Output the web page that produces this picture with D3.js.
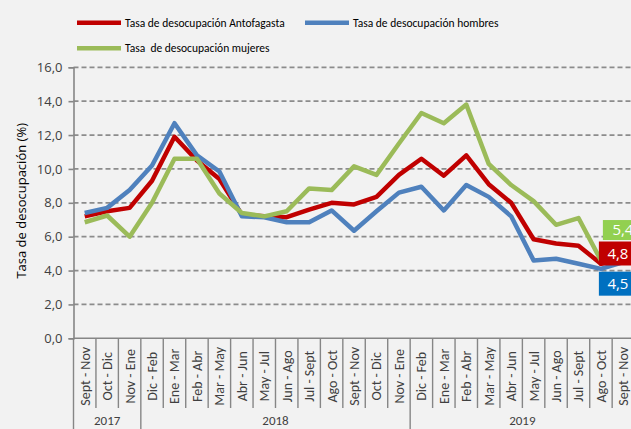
<!DOCTYPE html>
<html>
<head>
<meta charset="utf-8">
<script src="https://cdn.jsdelivr.net/npm/d3@7/dist/d3.min.js"></script>
<style>
    body { margin: 0; background: #f2f2f2; }
    svg { display: block; }
    .narrow { font-family: Carlito, 'Liberation Sans Narrow', 'DejaVu Sans Condensed', sans-serif; }
    .plain { font-family: 'Open Sans', 'Noto Sans', sans-serif; }
</style>
</head>
<body>
<div id="vis"></div>
<script>
'use strict';

// data: rolling quarters, Sept-Nov 2017 .. Sept-Nov 2019
var categories = ['Sept - Nov', 'Oct - Dic', 'Nov - Ene',
    'Dic - Feb', 'Ene - Mar', 'Feb - Abr', 'Mar - May', 'Abr - Jun', 'May - Jul',
    'Jun - Ago', 'Jul - Sept', 'Ago - Oct', 'Sept - Nov', 'Oct - Dic', 'Nov - Ene',
    'Dic - Feb', 'Ene - Mar', 'Feb - Abr', 'Mar - May', 'Abr - Jun', 'May - Jul',
    'Jun - Ago', 'Jul - Sept', 'Ago - Oct', 'Sept - Nov'];
var years = ['2017', '2018', '2019'];
var yearCounts = [3, 12, 10];

var antofagasta = [7.2, 7.5, 7.7, 9.3, 11.9, 10.5, 9.4, 7.3, 7.2, 7.15, 7.6, 8.0, 7.9,
    8.35, 9.65, 10.6, 9.6, 10.8, 9.1, 8.0, 5.85, 5.6, 5.47, 4.4, 4.8];
var hombres = [7.4, 7.7, 8.75, 10.2, 12.7, 10.8, 9.85, 7.2, 7.15, 6.85, 6.85, 7.55, 6.35,
    7.5, 8.6, 8.95, 7.55, 9.05, 8.35, 7.2, 4.6, 4.7, 4.4, 4.1, 4.5];
var mujeres = [6.85, 7.25, 6.0, 8.0, 10.6, 10.6, 8.55, 7.4, 7.2, 7.5, 8.85, 8.75, 10.15,
    9.65, 11.5, 13.3, 12.7, 13.8, 10.3, 9.05, 8.1, 6.7, 7.1, 4.6, 5.4];

var seriesNames = ['Tasa de desocupación Antofagasta', 'Tasa de desocupación hombres',
    'Tasa  de desocupación mujeres'];
var yTicks = [0, 2, 4, 6, 8, 10, 12, 14, 16];

//layout
var width = 631, height = 429;
var plot = { left: 73.5, right: 634.6, top: 67.3, bottom: 338.3 };

//vis color
var colors = {
    antofagasta: '#c00000', hombres: '#4f81bd', mujeres: '#9bbb59',
    grid: '#8c8c8c', axis: '#868686', text: '#404040'
};
var series = [
    { key: 'antofagasta', name: seriesNames[0], values: antofagasta, color: colors.antofagasta, box: '#c00000', shift: -3.5 },
    { key: 'hombres', name: seriesNames[1], values: hombres, color: colors.hombres, box: '#0070c0', shift: 21.6 },
    { key: 'mujeres', name: seriesNames[2], values: mujeres, color: colors.mujeres, box: '#92d050', shift: -16.8 }
];

var x = d3.scaleBand().domain(d3.range(categories.length)).range([plot.left, plot.right]).padding(0);
var y = d3.scaleLinear().domain([0, 16]).range([plot.bottom, plot.top]);

var svg = d3.select('#vis').append('svg')
    .attr('width', width)
    .attr('height', height);

svg.append('rect').attr('width', width).attr('height', height).attr('fill', '#f2f2f2');

//grid lines
svg.append('g').selectAll('line')
    .data(yTicks.filter(function (d) { return d > 0; }))
    .enter().append('line')
    .attr('x1', plot.left)
    .attr('x2', width)
    .attr('y1', function (d) { return y(d); })
    .attr('y2', function (d) { return y(d); })
    .attr('stroke', colors.grid)
    .attr('stroke-width', 1.8)
    .attr('stroke-dasharray', '5,3');

//y axis
var yAxis = svg.append('g')
    .attr('transform', 'translate(' + plot.left + ',0)')
    .call(d3.axisLeft(y).tickValues(yTicks).tickSize(5).tickPadding(6)
        .tickFormat(function (d) { return d.toFixed(1).replace('.', ','); }));
yAxis.select('.domain').attr('stroke', colors.axis).attr('stroke-width', 1.6);
yAxis.selectAll('.tick line').attr('stroke', colors.axis).attr('stroke-width', 1.6);
yAxis.selectAll('.tick text')
    .attr('class', 'plain')
    .style('font-size', '13px')
    .attr('fill', colors.text);

svg.append('text')
    .attr('class', 'plain')
    .attr('transform', 'translate(26,' + ((plot.top + plot.bottom) / 2 - 2) + ') rotate(-90)')
    .attr('text-anchor', 'middle')
    .style('font-size', '13px')
    .attr('fill', '#000')
    .text('Tasa de desocupación (%)');

//x axis
svg.append('line')
    .attr('x1', plot.left)
    .attr('x2', width)
    .attr('y1', plot.bottom)
    .attr('y2', plot.bottom)
    .attr('stroke', colors.axis)
    .attr('stroke-width', 1.6);

var xAxis = svg.append('g')
    .attr('transform', 'translate(0,' + plot.bottom + ')')
    .call(d3.axisBottom(x).tickSize(0)
        .tickFormat(function (i) { return categories[i]; }));
xAxis.select('.domain').remove();
xAxis.selectAll('.tick text')
    .attr('class', 'narrow')
    .attr('transform', 'rotate(-90)')
    .attr('x', -38)
    .attr('y', 0)
    .attr('dy', '0.35em')
    .style('text-anchor', 'middle')
    .style('font-size', '14px')
    .attr('fill', colors.text);

//category separators; year borders run to the bottom
var yearStarts = [0];
yearCounts.forEach(function (c, i) { yearStarts.push(yearStarts[i] + c); });
d3.range(categories.length + 1).forEach(function (i) {
    var xPos = i < categories.length ? x(i) : x(i - 1) + x.bandwidth();
    var isYear = yearStarts.indexOf(i) >= 0;
    svg.append('line')
        .attr('x1', xPos)
        .attr('x2', xPos)
        .attr('y1', plot.bottom)
        .attr('y2', isYear ? height : 408)
        .attr('stroke', colors.axis)
        .attr('stroke-width', 1.4);
});
years.forEach(function (yr, i) {
    var x0 = x(yearStarts[i]);
    var x1 = x(yearStarts[i + 1] - 1) + x.bandwidth();
    svg.append('text')
        .attr('class', 'narrow')
        .attr('x', (x0 + x1) / 2)
        .attr('y', 425)
        .attr('text-anchor', 'middle')
        .style('font-size', '13px')
        .attr('fill', colors.text)
        .text(yr);
});

//lines
var line = d3.line()
    .x(function (d, i) { return x(i) + x.bandwidth() / 2; })
    .y(function (d) { return y(d); });
series.forEach(function (s) {
    svg.append('path')
        .datum(s.values)
        .attr('d', line)
        .attr('fill', 'none')
        .attr('stroke', s.color)
        .attr('stroke-width', 4.5)
        .attr('stroke-linejoin', 'round');
});

//end labels
var last = categories.length - 1;
series.forEach(function (s) {
    var cx = x(last) + x.bandwidth() / 2;
    var cy = y(s.values[last]) + s.shift;
    var w = s.key === 'mujeres' ? 41 : 49;
    var g = svg.append('g');
    g.append('rect')
        .attr('x', cx - w / 2)
        .attr('y', cy - (s.key === 'mujeres' ? 10 : 12))
        .attr('width', w)
        .attr('height', s.key === 'mujeres' ? 20 : 24)
        .attr('fill', s.box);
    g.append('text')
        .attr('class', 'plain')
        .attr('x', cx - w / 2 + (s.key === 'mujeres' ? 9.5 : 8.5))
        .attr('y', cy)
        .attr('dy', '0.36em')
        .style('font-size', '15px')
        .attr('fill', '#fff')
        .text(s.values[last].toFixed(1).replace('.', ','));
});

//legend
var legendPos = [[77, 22.7], [305, 22.7], [77, 48.3]];
series.forEach(function (s, i) {
    var lg = svg.append('g')
        .attr('transform', 'translate(' + legendPos[i][0] + ',' + legendPos[i][1] + ')');
    lg.append('line')
        .attr('x2', 44)
        .attr('stroke', s.color)
        .attr('stroke-width', 4.5);
    lg.append('text')
        .attr('class', 'narrow')
        .attr('x', 48)
        .attr('dy', '0.35em')
        .style('font-size', '11.5px')
        .style('white-space', 'pre')
        .attr('fill', '#000')
        .text(s.name);
});
</script>
</body>
</html>
